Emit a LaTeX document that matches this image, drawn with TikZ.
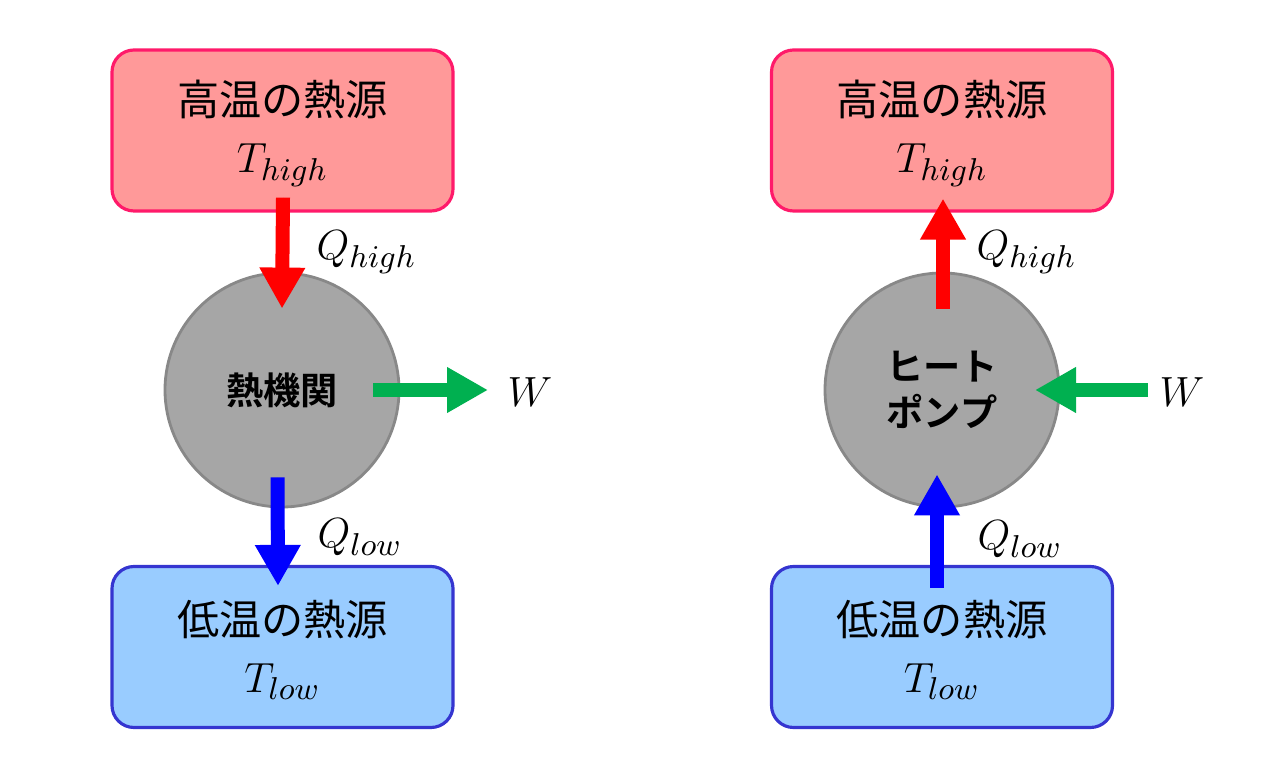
\documentclass[tikz,border=0pt]{standalone}
\usepackage{fontspec}
\setmainfont{Noto Sans CJK JP}[BoldFont={Noto Sans CJK JP Bold}]
\usetikzlibrary{arrows.meta,calc}
\definecolor{hotfill}{HTML}{FF9999}
\definecolor{hotline}{HTML}{FF1A6A}
\definecolor{coldfill}{HTML}{99CCFF}
\definecolor{coldline}{HTML}{3535D0}
\definecolor{engfill}{HTML}{A6A6A6}
\definecolor{engline}{HTML}{888888}
\definecolor{arrred}{HTML}{FF0000}
\definecolor{arrgreen}{HTML}{00B050}
\definecolor{arrblue}{HTML}{0000FF}
\tikzset{
  srcbox/.style={draw, line width=0.9pt, rounded corners=0.22cm, minimum width=3.41cm, minimum height=1.61cm, inner sep=0pt},
  hotbox/.style={srcbox, fill=hotfill, draw=hotline},
  coldbox/.style={srcbox, fill=coldfill, draw=coldline},
  engine/.style={circle, fill=engfill, draw=engline, line width=0.8pt, minimum size=2.34cm, inner sep=0pt},
  boxtext/.style={anchor=base, inner sep=0pt, font=\fontsize{12}{14}\selectfont},
  mathtext/.style={anchor=base, inner sep=0pt, font=\fontsize{13}{15}\selectfont},
  qlabel/.style={anchor=base west, inner sep=0pt, font=\fontsize{13}{15}\selectfont},
  enginetext/.style={inner sep=0pt, align=center, font=\fontsize{10.6}{13.2}\selectfont\bfseries},
  flow/.style={line width=0.14cm, -{Triangle[width=0.43cm,length=0.41cm]}},
  redflow/.style={flow, draw=arrred, fill=arrred},
  greenflow/.style={flow, draw=arrgreen, fill=arrgreen},
  blueflow/.style={flow, draw=arrblue, fill=arrblue}
}
\begin{document}
\begin{tikzpicture}
\useasboundingbox (0,0) rectangle (12.8,7.74);
% ---------- left: heat engine ----------
\node[hotbox] (hotL) at (2.825,6.435) {};
\node[boxtext] (hotLa) at (2.825,6.58) {高温の熱源};
\node[mathtext] (hotLb) at (2.825,6.01) {$T_{high}$};
\node[engine] (engL) at (2.82,3.84) {};
\node[enginetext] (engLt) at (2.82,3.84) {熱機関};
\node[coldbox] (coldL) at (2.825,1.27) {};
\node[boxtext] (coldLa) at (2.825,1.38) {低温の熱源};
\node[mathtext] (coldLb) at (2.825,0.82) {$T_{low}$};
\coordinate (wLend) at (4.88,3.84);
\node[qlabel] (qhL) at (3.16,5.14) {$Q_{high}$};
\node[qlabel] (qlL) at (3.17,2.26) {$Q_{low}$};
\node[qlabel] (wL) at (5.07,3.67) {$W$};
\draw[redflow] ([shift={(0.005,0.15)}]hotL.south) -- ([yshift=-0.37cm]engL.north);
\draw[greenflow] ([xshift=0.91cm]engL.center) -- (wLend);
\draw[blueflow] ([shift={(-0.045,0.31)}]engL.south) -- ([shift={(-0.045,-0.21)}]coldL.north);
% ---------- right: heat pump ----------
\node[hotbox] (hotR) at (9.42,6.435) {};
\node[boxtext] (hotRa) at (9.42,6.58) {高温の熱源};
\node[mathtext] (hotRb) at (9.42,6.01) {$T_{high}$};
\node[engine] (engR) at (9.42,3.84) {};
\node[enginetext] (engRt) at (9.42,3.84) {ヒート\\ポンプ};
\node[coldbox] (coldR) at (9.42,1.27) {};
\node[boxtext] (coldRa) at (9.42,1.38) {低温の熱源};
\node[mathtext] (coldRb) at (9.42,0.82) {$T_{low}$};
\coordinate (wRstart) at (11.48,3.84);
\node[qlabel] (qhR) at (9.76,5.14) {$Q_{high}$};
\node[qlabel] (qlR) at (9.77,2.24) {$Q_{low}$};
\node[qlabel] (wR) at (11.59,3.67) {$W$};
\draw[redflow] ([shift={(0.01,-0.37)}]engR.north) -- ([shift={(0.01,0.14)}]hotR.south);
\draw[greenflow] (wRstart) -- ([xshift=0.93cm]engR.center);
\draw[blueflow] ([shift={(-0.05,-0.23)}]coldR.north) -- ([shift={(-0.05,0.34)}]engR.south);
\end{tikzpicture}
\end{document}
